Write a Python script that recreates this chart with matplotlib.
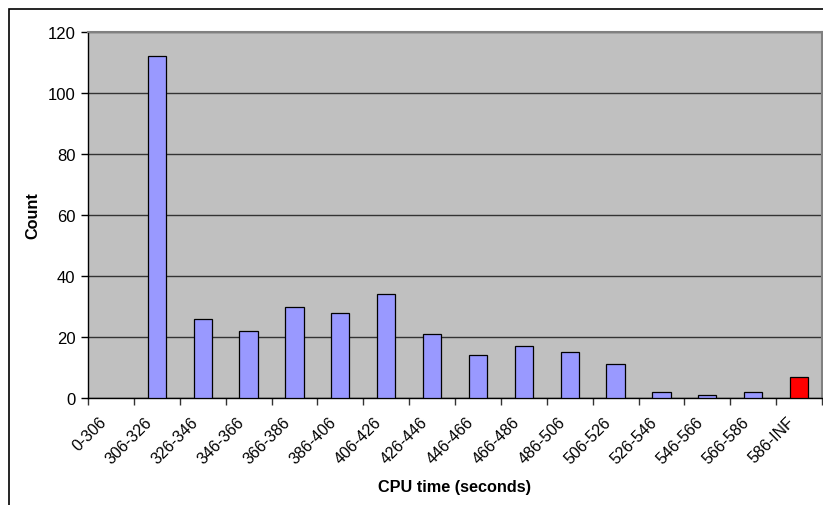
import matplotlib
matplotlib.use("Agg")
import matplotlib.pyplot as plt
from matplotlib.patches import Rectangle
import numpy as np

categories = ["0-306", "306-326", "326-346", "346-366", "366-386", "386-406",
              "406-426", "426-446", "446-466", "466-486", "486-506", "506-526",
              "526-546", "546-566", "566-586", "586-INF"]
counts = [0, 112, 26, 22, 30, 28, 34, 21, 14, 17, 15, 11, 2, 1, 2, 7]
bar_colors = ["#9999FF"] * 15 + ["#FF0000"]
y_ticks = [0, 20, 40, 60, 80, 100, 120]

plt.rcParams['font.family'] = ['Liberation Sans', 'DejaVu Sans']

W, H = 823, 506
fig = plt.figure(figsize=(W / 100, H / 100), dpi=100)
# outer chart frame
fig.patches.append(Rectangle((9 / W, -0.1), 1.2, (H - 10) / H + 0.1,
                             transform=fig.transFigure, fill=False,
                             edgecolor="black", linewidth=1.2))

left, right, top, bottom = 88, 822, 33, 399
ax = fig.add_axes([left / W, 1 - bottom / H, (right - left) / W, (bottom - top) / H])
ax.set_facecolor("#C0C0C0")

x = np.arange(len(categories))
edge_w = [0.9 if c > 0 else 0 for c in counts]
ax.bar(x, counts, width=0.4, color=bar_colors, edgecolor="black",
       linewidth=edge_w, zorder=3)

ax.set_xlim(-0.5, len(categories) - 0.5)
ax.set_ylim(0, 120)
ax.set_yticks(y_ticks)
ax.yaxis.grid(True, color="#333333", linewidth=1.0, zorder=1)
ax.set_axisbelow(True)

ax.set_xticks(np.arange(len(categories) + 1) - 0.5)
ax.set_xticklabels([])
ax.tick_params(axis="x", direction="out", length=5, width=1, color="#333333")
ax.tick_params(axis="y", direction="out", length=5, width=1, labelsize=12, pad=4)

for i, lab in enumerate(categories):
    ax.text(i - 0.15, -7, lab, rotation=45, rotation_mode="anchor",
            ha="right", va="center", fontsize=11.5)

for s in ["top", "right"]:
    ax.spines[s].set_color("#808080")
    ax.spines[s].set_linewidth(1.5)
for s in ["left", "bottom"]:
    ax.spines[s].set_color("black")
    ax.spines[s].set_linewidth(1.0)

fig.text(455 / W, 1 - 488 / H, "CPU time (seconds)", ha="center", va="center",
         fontsize=11.7, fontweight="bold")
fig.text(33 / W, 1 - 216 / H, "Count", ha="center", va="center", rotation=90,
         fontsize=11.7, fontweight="bold")

fig.savefig("out.png", dpi=100)
